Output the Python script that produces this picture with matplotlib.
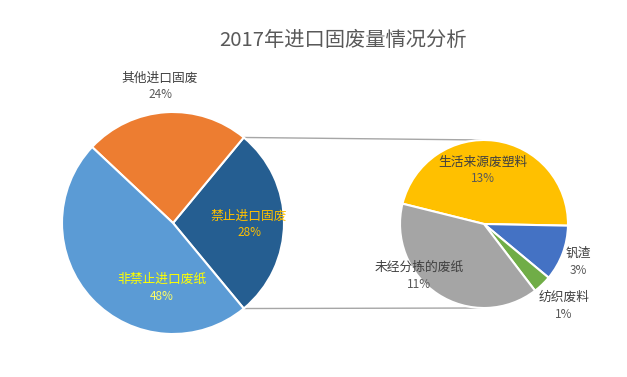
import numpy as np
import matplotlib.pyplot as plt

plt.rcParams['font.family'] = ['Noto Sans CJK SC', 'DejaVu Sans']

title = '2017年进口固废量情况分析'

# main pie, drawn counter-clockwise from the right
main_labels = ['禁止进口固废', '其他进口固废', '非禁止进口废纸']
main_values = [28, 24, 48]
main_colors = ['#255E91', '#ED7D31', '#5B9BD5']

# secondary pie (breakdown of 禁止进口固废), drawn clockwise
sub_labels = ['生活来源废塑料', '钒渣', '纺织废料', '未经分拣的废纸']
sub_values = [13, 3, 1, 11]
sub_colors = ['#FFC000', '#4472C4', '#70AD47', '#A5A5A5']

W, H = 627, 377
fig = plt.figure(figsize=(W / 100, H / 100), dpi=100)
ax = fig.add_axes([0, 0, 1, 1])

# pixel-like coordinates, y up
c1, r1 = (173, H - 223), 111
c2, r2 = (484, H - 224), 84

start1 = -main_values[0] / sum(main_values) * 360 / 2
w1, _ = ax.pie(main_values, colors=main_colors, center=c1, radius=r1,
               startangle=start1, counterclock=True,
               wedgeprops=dict(edgecolor='white', linewidth=1.5))
w2, _ = ax.pie(sub_values, colors=sub_colors, center=c2, radius=r2,
               startangle=166, counterclock=False,
               wedgeprops=dict(edgecolor='white', linewidth=1.5))

# connector lines from the 禁止进口固废 wedge to the top/bottom of the small pie
t1 = np.deg2rad(w1[0].theta2)
t0 = np.deg2rad(w1[0].theta1)
ax.plot([c1[0] + r1 * np.cos(t1), c2[0]], [c1[1] + r1 * np.sin(t1), c2[1] + r2],
        color='#A6A6A6', lw=1, zorder=0)
ax.plot([c1[0] + r1 * np.cos(t0), c2[0]], [c1[1] + r1 * np.sin(t0), c2[1] - r2],
        color='#A6A6A6', lw=1, zorder=0)

# data labels (name + percent of total)
total = sum(main_values)
main_pos = [(249, 224), (160, 86), (162, 287)]
main_txt = [('#FFC000', '#FFC000'), ('#404040', '#595959'), ('#FFFF00', '#FFFF66')]
for lab, v, (x, y), (cn, cp) in zip(main_labels, main_values, main_pos, main_txt):
    ax.text(x, H - y + 8, lab, ha='center', va='center', fontsize=9.2, color=cn)
    ax.text(x, H - y - 9, f'{v / total:.0%}', ha='center', va='center',
            fontsize=8.5, color=cp)

sub_pos = [(483, 170), (578, 261), (564, 305), (419, 275)]
for lab, v, (x, y) in zip(sub_labels, sub_values, sub_pos):
    ax.text(x, H - y + 8, lab, ha='center', va='center', fontsize=9.2, color='#404040')
    ax.text(x, H - y - 9, f'{v / total:.0%}', ha='center', va='center',
            fontsize=8.5, color='#595959')

ax.text(W / 2 + 29, H - 40, title, ha='center', va='center', fontsize=14.6,
        color='#595959')

ax.set_xlim(0, W)
ax.set_ylim(0, H)
ax.set_aspect('equal')
ax.axis('off')

fig.savefig('out.png', dpi=100)
